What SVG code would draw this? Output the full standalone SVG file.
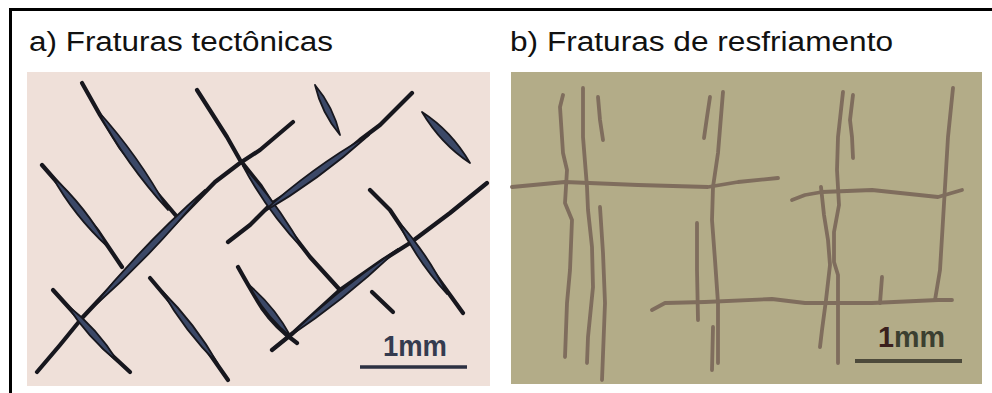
<svg xmlns="http://www.w3.org/2000/svg" width="992" height="393" viewBox="0 0 992 393">
  <style>
    .title { font-family: "Liberation Sans", Arial, sans-serif; font-size: 27px; fill: #111; }
    .scale-txt { font-family: "Liberation Sans", Arial, sans-serif; font-size: 29px; font-weight: bold; }
    .tec { fill: none; stroke: #17171e; stroke-width: 4.2; stroke-linecap: round; stroke-linejoin: round; }
    .lens { fill: #3b4867; stroke: #17171e; stroke-width: 1.8; stroke-linejoin: round; }
    .cool { fill: none; stroke: #7f6d5d; stroke-width: 3.8; stroke-linecap: round; stroke-linejoin: round; }
  </style>

  <rect width="992" height="393" fill="#ffffff"/>

  <!-- outer frame: left and top edges -->
  <path d="M10.5,393 V9.5 H992" fill="none" stroke="#000" stroke-width="3"/>

  <!-- headings -->
  <g id="title-a">
    <text class="title" x="29" y="51" textLength="304" lengthAdjust="spacingAndGlyphs">a) Fraturas tectônicas</text>
  </g>
  <g id="title-b">
    <text class="title" x="510" y="51" textLength="383" lengthAdjust="spacingAndGlyphs">b) Fraturas de resfriamento</text>
  </g>

  <!-- panel a: tectonic fractures -->
  <g id="panel-a">
    <rect x="27" y="72" width="463" height="314" fill="#efe0d9"/>
    <g id="tectonic-fractures">
      <!-- thin traces -->
      <polyline class="tec" points="82,83 100,115 120,147 150,185 178,218"/>
      <polyline class="tec" points="42,165 70,197 97,230 122,267"/>
      <polyline class="tec" points="37,372 60,345 82,318 127,270 178,220 215,182 240,163 260,150 293,122"/>
      <polyline class="tec" points="197,90 227,137 240,160 260,185 287,227 310,257 340,290"/>
      <polyline class="tec" points="228,242 250,225 270,205 300,185 330,165 360,140 380,125 412,93"/>
      <polyline class="tec" points="370,190 390,210 410,240 437,277 463,313"/>
      <polyline class="tec" points="272,350 293,333 340,290 383,260 410,243 450,213 487,183"/>
      <path class="tec" d="M238,267 Q252,292 262,308 Q276,328 297,343"/>
      <polyline class="tec" points="372,292 393,312"/>
      <polyline class="tec" points="53,290 82,322 103,347 130,372"/>
      <polyline class="tec" points="150,278 177,310 207,350 228,380"/>
      <!-- widened lens-shaped openings -->
      <path class="lens" d="M97,110 Q138.5,155.5 168,210 Q126.5,164.5 97,110 Z"/>
      <path class="lens" d="M52,176 Q86,207 108,247 Q74,216 52,176 Z"/>
      <path class="lens" d="M90,310 Q152.5,255 205,190 Q142.5,245 90,310 Z"/>
      <path class="lens" d="M243,166 Q278,204 303,249 Q267,211 243,166 Z"/>
      <path class="lens" d="M262,213 Q319,180 369,135 Q311,168 262,213 Z"/>
      <path class="lens" d="M315,85 Q333.5,107 340,135 Q321.5,113 315,85 Z"/>
      <path class="lens" d="M422,112 Q451.5,131 470,163 Q441,144 422,112 Z"/>
      <path class="lens" d="M397,220 Q428,254 447,294 Q417,261 397,220 Z"/>
      <path class="lens" d="M287,338 Q346.5,298.5 398,249 Q338.5,288.5 287,338 Z"/>
      <path class="lens" d="M249,285 Q275,307 291,337 Q265,316 249,285 Z"/>
      <path class="lens" d="M67,305 Q97.5,328.5 118,362 Q87.5,337.5 67,305 Z"/>
      <path class="lens" d="M162,291 Q195,323.5 218,364 Q185,331.5 162,291 Z"/>
    </g>
    <g id="scale-a">
      <text class="scale-txt" x="383" y="356" fill="#343b4f" textLength="64" lengthAdjust="spacingAndGlyphs">1mm</text>
      <line x1="360" y1="367" x2="467" y2="367" stroke="#2c3142" stroke-width="3.5"/>
    </g>
  </g>

  <!-- panel b: cooling fractures -->
  <g id="panel-b">
    <rect x="511" y="72" width="471" height="312" fill="#b3ac88"/>
    <g id="cooling-fractures">
      <polyline class="cool" points="563,95 560,107 563,153 567,170 565,203 572,220 570,270 567,303 565,357"/>
      <polyline class="cool" points="583,88 583,137 587,187 588,210 592,247 593,287 588,337 587,363"/>
      <polyline class="cool" points="598,97 600,120 603,140"/>
      <polyline class="cool" points="600,207 603,253 605,303 602,380"/>
      <polyline class="cool" points="710,97 707,117 704,138"/>
      <polyline class="cool" points="723,92 718,153 713,187 712,220 715,260 718,303 718,363"/>
      <polyline class="cool" points="697,223 697,270 698,320"/>
      <polyline class="cool" points="713,327 712,370"/>
      <polyline class="cool" points="843,92 838,137 837,170 839,205 834,232 834,262 838,275 838,310 838,363"/>
      <polyline class="cool" points="821,187 824,215 828,240 830,265 826,300 822,330 820,347"/>
      <polyline class="cool" points="853,95 850,120 852,137 853,158"/>
      <polyline class="cool" points="953,88 948,137 945,187 942,237 940,270 935,300"/>
      <polyline class="cool" points="882,277 880,303"/>
      <polyline class="cool" points="512,187 565,182 638,185 708,187 738,182 778,178"/>
      <polyline class="cool" points="792,200 805,195 822,192 872,190 938,197 962,190"/>
      <polyline class="cool" points="652,310 665,303 705,302 772,299 805,303 872,303 938,300 952,300"/>
    </g>
    <g id="scale-b">
      <text class="scale-txt" x="878" y="347" textLength="67" lengthAdjust="spacingAndGlyphs"><tspan fill="#3a1e1c">1</tspan><tspan fill="#3b3f30">mm</tspan></text>
      <line x1="855" y1="361" x2="962" y2="361" stroke="#4d4a3b" stroke-width="4"/>
    </g>
  </g>
</svg>
